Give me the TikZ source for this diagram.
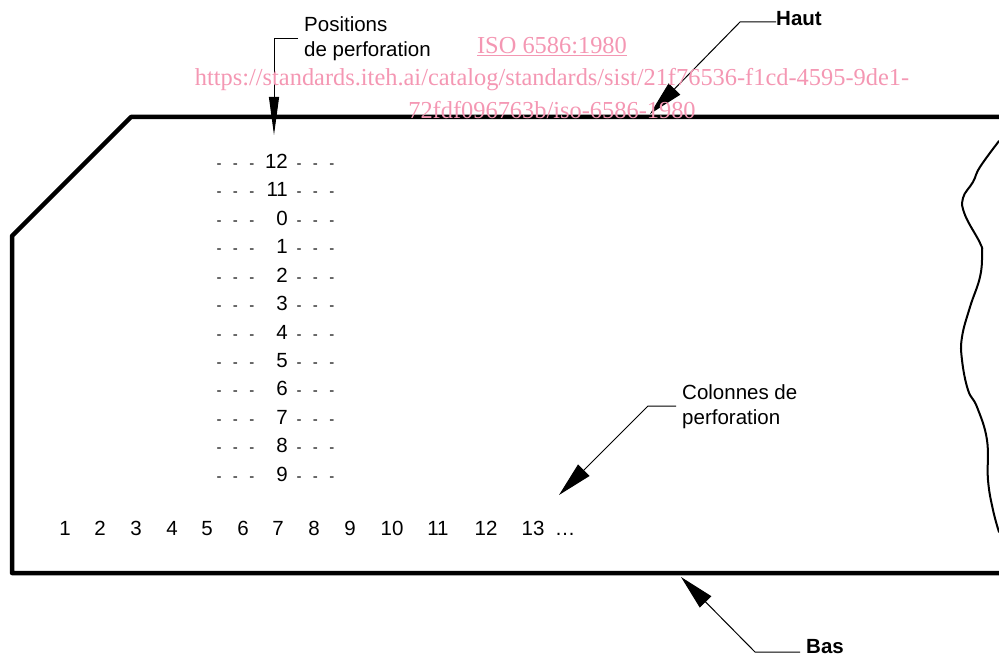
\documentclass[tikz,border=0pt]{standalone}
\usepackage{fontspec}
\setmainfont{Liberation Sans}
\newfontfamily\wmfont{Liberation Serif}
\usetikzlibrary{arrows.meta}
\definecolor{wmpink}{HTML}{F497B3}
\newcommand{\tirets}{-\hspace{11.5pt}-\hspace{11.5pt}-}

\begin{document}
\begin{tikzpicture}[x=1pt, y=-1pt,
		digit/.style={inner sep=0pt, font=\fontsize{20.5}{24}\selectfont},
		tiret/.style={inner sep=0pt, font=\fontsize{15}{18}\selectfont},
		label/.style={inner sep=3pt, align=left, font=\fontsize{20.5}{25}\selectfont},
		motcle/.style={inner sep=0pt, font=\fontsize{20.5}{24}\bfseries\selectfont},
		wm/.style={inner sep=0pt, text=wmpink, font=\fontsize{24.4}{30}\wmfont},
		fleche/.style={-{Triangle[length=38pt,width=10pt]}, line width=1pt},
		flechecourte/.style={-{Triangle[length=35pt,width=16pt]}, line width=1pt}]
	\useasboundingbox (0,0) rectangle (999,658);
	%
	%Carte
	\draw[line width=4.5pt, line join=round] (999,117) -- (131,117) -- (12,236) -- (12,573) -- (999,573);
	%
	%Bord dechire
	\draw[line width=2pt, line cap=round] plot[smooth, tension=0.7] coordinates {(999,141) (980,167) (973,182) (963,198) (965,215) (980,243) (982,253) (980,277) (970,307) (962,337) (962,360) (968,390) (977,407) (987,440) (988,480) (993,510) (999,532)};
	%
	%Positions de perforation
	\foreach \lab [count=\i] in {12,11,0,1,2,3,4,5,6,7,8,9} {
		\pgfmathsetmacro{\rowy}{168.3+(\i-1)*28.45}
		\node (tg\i) at (235.5,\rowy) [tiret, anchor=base] {\tirets};
		\node (pos\i) at (288,\rowy) [digit, anchor=base east] {\lab};
		\node (td\i) at (315.5,\rowy) [tiret, anchor=base] {\tirets};
	}
	%
	%Colonnes de perforation
	\foreach \lab/\colx in {1/65,2/100,3/136,4/172,5/207,6/243,7/278,8/314,9/350,10/392,11/438,12/486,13/533} {
		\node (col\lab) at (\colx,535.5) [digit, anchor=base] {\lab};
	}
	\node (suite) at (565,535.5) [digit, anchor=base] {\dots};
	%
	%Legende Positions
	\node (positions) at (301,39) [label, anchor=west] {Positions\\de perforation};
	\coordinate (positionscoude) at (274,39);
	\coordinate (positionspointe) at (274,135);
	\draw[fleche] (298,39) -- (positionscoude) -- (positionspointe);
	%
	%Legende Haut
	\node (haut) at (776,26) [motcle, anchor=base west] {Haut};
	\coordinate (hautcoude) at (740,22);
	\coordinate (hautpointe) at (650,114);
	\draw[flechecourte] (haut.west |- hautcoude) -- (hautcoude) -- (hautpointe);
	%
	%Legende Colonnes
	\node (colonnes) at (679,407) [label, anchor=west] {Colonnes de\\perforation};
	\coordinate (colonnescoude) at (648,406);
	\coordinate (colonnespointe) at (559,495);
	\draw[flechecourte] (676,406) -- (colonnescoude) -- (colonnespointe);
	%
	%Legende Bas
	\node (bas) at (806,653.5) [motcle, anchor=base west] {Bas};
	\coordinate (bascoude) at (755,652);
	\coordinate (baspointe) at (681,577);
	\draw[flechecourte] (800,652) -- (bascoude) -- (baspointe);
	%
	%Filigrane
	\node (wma) at (552,47) [wm] {\underline{ISO 6586:1980}};
	\node (wmb) at (552,80) [wm] {https://standards.iteh.ai/catalog/standards/sist/21f76536-f1cd-4595-9de1-};
	\node (wmc) at (552,110) [wm] {72fdf096763b/iso-6586-1980};
\end{tikzpicture}
\end{document}
